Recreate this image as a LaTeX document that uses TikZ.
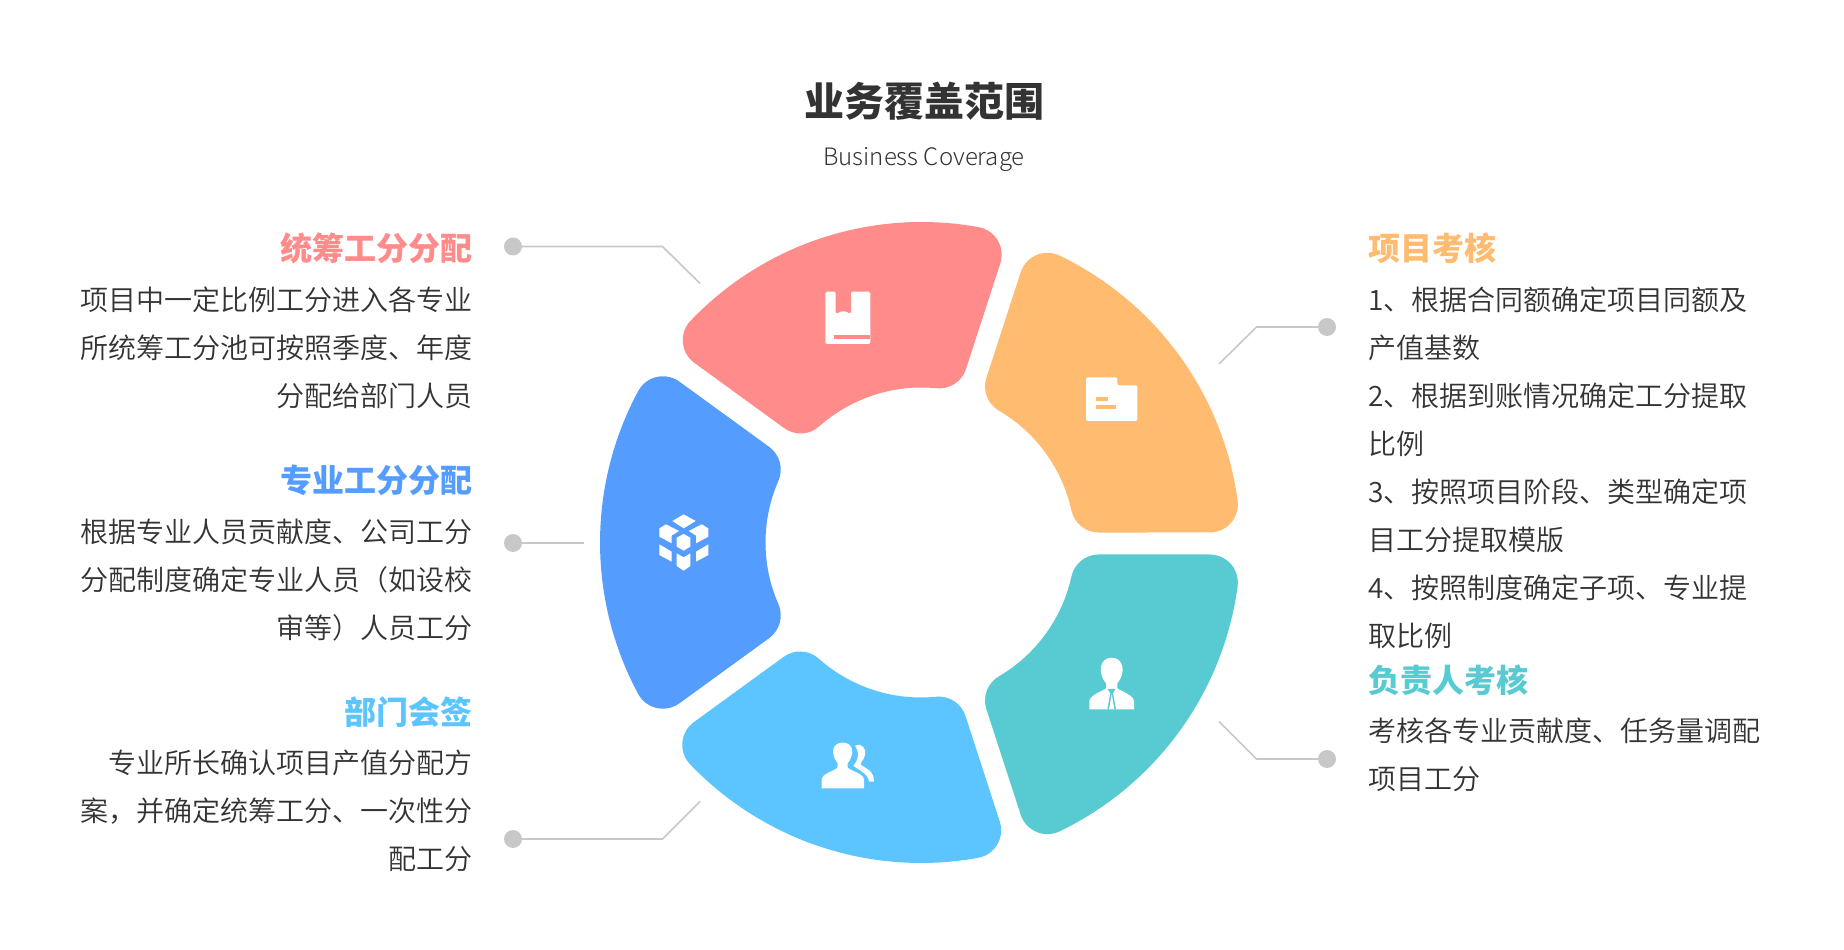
\documentclass[tikz,border=0pt]{standalone}
\usepackage{fontspec}
\setmainfont{Noto Sans CJK SC}
\newfontfamily\lightfont{Noto Sans CJK SC DemiLight}
\newfontfamily\thinfont{Noto Sans CJK SC Light}
\usetikzlibrary{calc}
\definecolor{ringred}{HTML}{FF8B8B}
\definecolor{ringorange}{HTML}{FFBB6F}
\definecolor{ringteal}{HTML}{58CAD1}
\definecolor{ringblue}{HTML}{559CFF}
\definecolor{ringsky}{HTML}{5CC5FF}
\definecolor{bodygray}{HTML}{333333}
\definecolor{leadgray}{HTML}{C8C8C8}
\tikzset{
  headtxt/.style={inner sep=0pt,font=\fontsize{32}{32}\selectfont\bfseries},
  bodytxt/.style={inner sep=0pt,text=bodygray,font=\lightfont\fontsize{28}{48}\selectfont},
  dotmark/.style={circle,fill=leadgray,minimum size=18pt,inner sep=0pt},
  leader/.style={draw=leadgray,line width=1.6pt},
  zoomed/.style={x=.33333pt,y=-.33333pt}
}
\newcommand{\ringseg}[3]{%
  \fill[#2,shift={(#3)},rotate=#1]
    (-28.31:319.5) arc[start angle=-28.31,end angle=28.31,radius=319.5]
    arc[start angle=28.31,end angle=126,radius=28]
    -- ($(23.63:182)+(126:28)$)
    arc[start angle=126,end angle=203.63,radius=28]
    arc[start angle=23.63,end angle=-23.63,radius=154]
    arc[start angle=156.37,end angle=234,radius=28]
    -- ($(-28.31:291.5)+(234:28)$)
    arc[start angle=234,end angle=331.69,radius=28] -- cycle;
}
\begin{document}
\begin{tikzpicture}[x=1pt,y=1pt]
\useasboundingbox (0,0) rectangle (1844,950);
\node [inner sep=0pt,text=bodygray,font=\fontsize{40}{40}\selectfont\bfseries] (title) at (924,849) {业务覆盖范围};
\node [inner sep=0pt,text=bodygray,font=\thinfont\fontsize{24}{25}\selectfont] (subtitle) at (924,790) {Business Coverage};

\ringseg{108}{ringred}{921.5,408.5}
\ringseg{36}{ringorange}{921,406.5}
\ringseg{180}{ringblue}{919.5,407.5}
\ringseg{252}{ringsky}{921,406.5}
\ringseg{324}{ringteal}{921,406.5}

% book
\begin{scope}[shift={(800,680)},zoomed]
\fill[white,rounded corners=1.5pt] (76,65) -- (107,65) -- (107,132) -- (130,122) -- (153,132) -- (153,65) -- (211,65) -- (211,222) -- (76,222) -- cycle;
\fill[ringred] (103,195) rectangle (211,208);
\end{scope}
% folder
\begin{scope}[shift={(800,680)},zoomed]
\fill[white,rounded corners=2pt] (858,322) -- (952,322) -- (952,346) -- (1012,346) -- (1012,453) -- (858,453) -- cycle;
\fill[ringorange] (888,382) rectangle (923,392);
\fill[ringorange] (888,405) rectangle (947,417);
\end{scope}
% cubes
\begin{scope}[shift={(640,450)},zoomed]
\fill[white] (97,63) -- (131,43) -- (167,63) -- (131,85) -- cycle;
\fill[white] (58,85) -- (78,73) -- (117,93) -- (95,107) -- (95,130) -- (58,110) -- cycle;
\fill[white] (205,85) -- (185,73) -- (146,93) -- (168,107) -- (168,130) -- (205,110) -- cycle;
\fill[white] (131,102) -- (151,113) -- (151,140) -- (131,152) -- (110,140) -- (110,113) -- cycle;
\fill[white] (58,133) -- (95,155) -- (95,185) -- (58,165) -- cycle;
\fill[white] (205,133) -- (168,155) -- (168,185) -- (205,165) -- cycle;
\fill[white] (110,160) -- (131,172) -- (151,160) -- (151,198) -- (131,212) -- (110,198) -- cycle;
\end{scope}
% two people
\begin{scope}[shift={(800,230)},zoomed]
\fill[white] (65,205) -- (65,180) .. controls (65,160) and (100,155) .. (112,143) -- (113,130) .. controls (90,100) and (96,68) .. (128,68) .. controls (160,68) and (166,100) .. (143,130) -- (143,143) .. controls (156,155) and (192,160) .. (192,180) -- (192,205) -- cycle;
\fill[white] (165,77) .. controls (185,68) and (200,85) .. (195,105) .. controls (190,125) and (178,128) .. (183,135) .. controls (195,145) and (222,150) .. (222,185) -- (207,185) .. controls (205,160) and (175,150) .. (160,137) .. controls (175,120) and (180,100) .. (165,77) -- cycle;
\end{scope}
% person with tie
\begin{scope}[shift={(1070,310)},zoomed]
\fill[white] (58,208) -- (58,185) .. controls (58,165) and (95,155) .. (108,145) -- (108,130) .. controls (82,100) and (88,53) .. (125,53) .. controls (162,53) and (168,100) .. (142,130) -- (142,145) .. controls (155,155) and (192,165) .. (192,185) -- (192,208) -- cycle;
\fill[ringteal] (113,147) -- (136,147) -- (129,160) -- (138,208) -- (133,208) -- (125,160) -- (117,208) -- (112,208) -- (121,160) -- cycle;
\end{scope}

\node [dotmark] (dotA) at (513,703.5) {};
\coordinate (bendA) at (662.5,703.5);
\coordinate (endA) at (700,666.5);
\draw[leader] (dotA) -- (bendA) -- (endA);
\node [dotmark] (dotB) at (513,407) {};
\coordinate (endB) at (583.5,407);
\draw[leader] (dotB) -- (endB);
\node [dotmark] (dotC) at (513,111) {};
\coordinate (bendC) at (662.5,111);
\coordinate (endC) at (700,148.5);
\draw[leader] (dotC) -- (bendC) -- (endC);
\node [dotmark] (dotD) at (1327,623) {};
\coordinate (bendD) at (1256.5,623);
\coordinate (endD) at (1219,586);
\draw[leader] (dotD) -- (bendD) -- (endD);
\node [dotmark] (dotE) at (1327,191) {};
\coordinate (bendE) at (1256.5,191);
\coordinate (endE) at (1219,228.5);
\draw[leader] (dotE) -- (bendE) -- (endE);

\node [headtxt,text=ringred,anchor=base east] (headA) at (473,689) {统筹工分分配};
\node [bodytxt,align=right,anchor=north east] (bodyA) at (473,663.5) {项目中一定比例工分进入各专业\\所统筹工分池可按照季度、年度\\分配给部门人员};
\node [headtxt,text=ringblue,anchor=base east] (headB) at (473,457) {专业工分分配};
\node [bodytxt,align=right,anchor=north east] (bodyB) at (473,431.5) {根据专业人员贡献度、公司工分\\分配制度确定专业人员（如设校\\审等）人员工分};
\node [headtxt,text=ringsky,anchor=base east] (headC) at (473,225.5) {部门会签};
\node [bodytxt,align=right,anchor=north east] (bodyC) at (473,200.5) {专业所长确认项目产值分配方\\案，并确定统筹工分、一次性分\\配工分};
\node [headtxt,text=ringorange,anchor=base west] (headD) at (1368,689) {项目考核};
\node [bodytxt,align=left,anchor=north west] (bodyD) at (1368,663.5) {1、根据合同额确定项目同额及\\产值基数\\2、根据到账情况确定工分提取\\比例\\3、按照项目阶段、类型确定项\\目工分提取模版\\4、按照制度确定子项、专业提\\取比例};
\node [headtxt,text=ringteal,anchor=base west] (headE) at (1368,257) {负责人考核};
\node [bodytxt,align=left,anchor=north west] (bodyE) at (1368,232) {考核各专业贡献度、任务量调配\\项目工分};
\end{tikzpicture}
\end{document}
